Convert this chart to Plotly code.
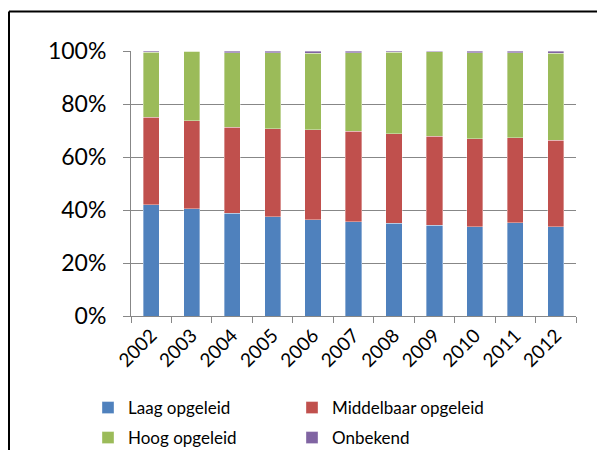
import plotly.graph_objects as go

years = ["2002", "2003", "2004", "2005", "2006", "2007", "2008", "2009", "2010", "2011", "2012"]

# share of each education level (%)
laag = [42.0, 40.5, 38.8, 37.5, 36.3, 35.6, 35.0, 34.2, 33.7, 35.2, 33.7]
middelbaar = [33.0, 33.2, 32.5, 33.2, 33.9, 34.1, 33.7, 33.7, 33.2, 32.1, 32.7]
hoog = [24.6, 26.2, 28.0, 28.6, 28.9, 29.7, 30.8, 31.8, 32.4, 32.0, 32.7]
onbekend = [0.4, 0.1, 0.7, 0.7, 0.9, 0.6, 0.5, 0.3, 0.7, 0.7, 0.9]

series = [
    ("Laag opgeleid", laag, "#4F81BD", "legend"),
    ("Middelbaar opgeleid", middelbaar, "#C0504D", "legend"),
    ("Hoog opgeleid", hoog, "#9BBB59", "legend2"),
    ("Onbekend", onbekend, "#8064A2", "legend2"),
]

FONT = "Lato, Carlito, Calibri, sans-serif"

fig = go.Figure()
for name, vals, color, lg in series:
    fig.add_trace(go.Bar(
        x=years,
        y=[v / 100 for v in vals],
        name=name,
        legend=lg,
        marker=dict(color=color, line=dict(width=0.6, color="rgba(255,255,255,0.6)")),
    ))

# the page body has an 8px margin, so the figure is 16px smaller than the window
W, H = 589, 442
L, R, T, B = 123, 21, 43, 134
pw, ph = W - L - R, H - T - B

# chart frame: only its left and top edges are visible in the original
fx0 = (1 - L) / pw
fy1 = 1 + (T - 3.5) / ph
frame = dict(type="line", xref="paper", yref="paper",
             line=dict(color="black", width=2), layer="below")
fig.add_shape(frame, x0=fx0, x1=fx0, y0=-1.0, y1=fy1)
fig.add_shape(frame, x0=fx0, x1=1.5, y0=fy1, y1=fy1)

legend_common = dict(
    orientation="h",
    xref="container", yref="container",
    xanchor="left", yanchor="middle",
    entrywidth=159, entrywidthmode="pixels",
    font=dict(size=17, family=FONT),
    traceorder="normal",
    bgcolor="rgba(0,0,0,0)",
)

fig.update_layout(
    width=W, height=H,
    margin=dict(l=L, r=R, t=T, b=B, autoexpand=False),
    barmode="stack",
    bargap=0.6,
    plot_bgcolor="white",
    paper_bgcolor="white",
    font=dict(family=FONT, color="black"),
    legend=dict(legend_common, x=80 / W, y=1 - 400 / H),
    legend2=dict(legend_common, x=80 / W, y=1 - 430 / H),
    showlegend=True,
)

fig.update_yaxes(
    range=[0, 1],
    tickvals=[0, 0.2, 0.4, 0.6, 0.8, 1.0],
    tickformat=".0%",
    tickfont=dict(size=23, family=FONT),
    showgrid=True, gridcolor="#878787", gridwidth=1,
    showline=True, linecolor="#878787", linewidth=1,
    ticks="outside", ticklen=7, tickcolor="#878787",
    ticklabelstandoff=12,
    zeroline=False,
)
fig.update_xaxes(
    type="category",
    tickangle=-45,
    tickfont=dict(size=19, family=FONT),
    showline=True, linecolor="#878787", linewidth=1,
    ticks="outside", ticklen=6, tickcolor="#878787",
    tickson="boundaries",
    showgrid=False,
)

fig.write_html("out.html")
